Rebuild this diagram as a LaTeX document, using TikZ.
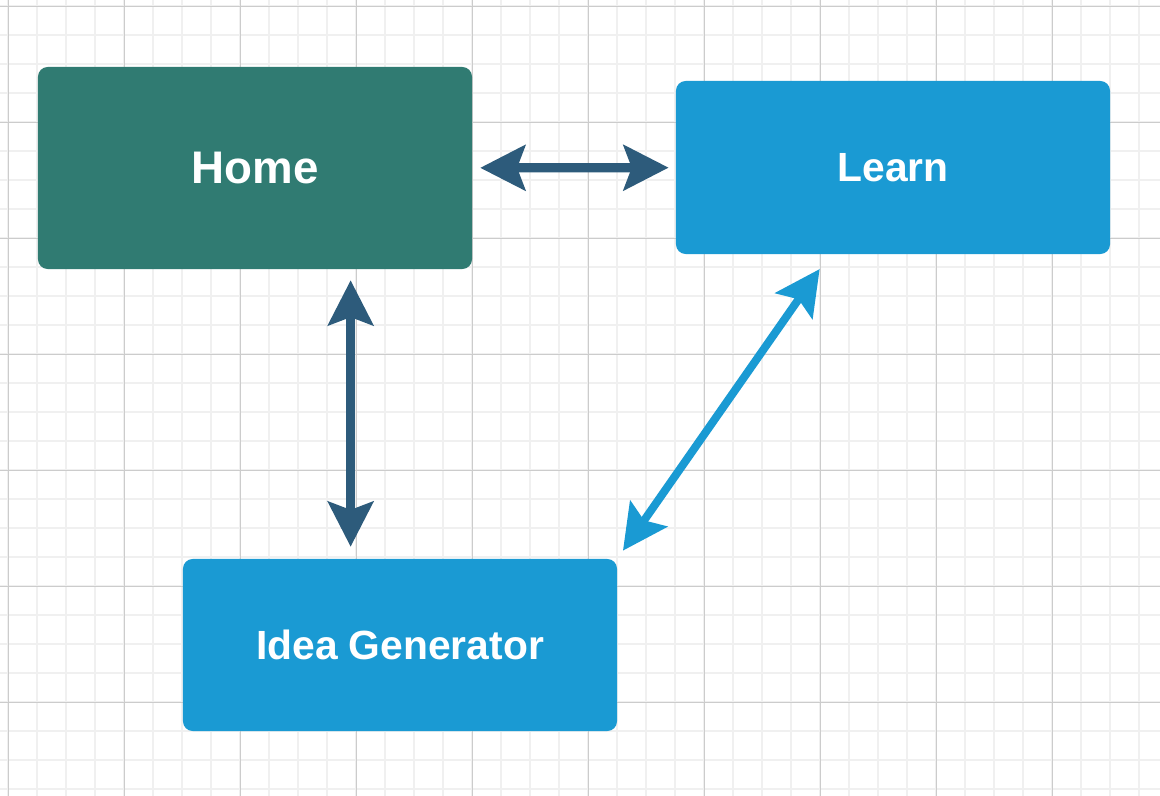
\documentclass[tikz,border=0pt]{standalone}
\usepackage{fontspec}
\setmainfont{Liberation Sans}
\usetikzlibrary{arrows.meta, calc}
\definecolor{hometeal}{HTML}{307B72}
\definecolor{pageblue}{HTML}{1A9AD3}
\definecolor{linkdark}{HTML}{2D5B7B}
\definecolor{minorgray}{HTML}{F0F0F0}
\definecolor{majorgray}{HTML}{CCCCCC}

\tikzset{
  page/.style={rounded corners=7pt, inner sep=0pt, text=white,
    font=\fontsize{29}{34}\selectfont\bfseries},
  link/.style={line width=6.6pt,
    {Stealth[length=31.9pt, width=31.9pt, inset=5.7pt]}-{Stealth[length=31.9pt, width=31.9pt, inset=5.7pt]}}
}

\begin{document}
\begin{tikzpicture}[x=0.025cm, y=-0.025cm]
      \useasboundingbox (0,0) rectangle (1160,796);
      \fill[white] (0,0) rectangle (1160,796);

      % Rejilla de fondo
      \foreach \gx in {8,37,...,1160} \draw[minorgray, line width=1.3pt] (\gx,0) -- (\gx,796);
      \foreach \gy in {6,35,...,796} \draw[minorgray, line width=1.3pt] (0,\gy) -- (1160,\gy);
      \foreach \gx in {8,124,...,1160} \draw[majorgray, line width=0.7pt] (\gx,0) -- (\gx,796);
      \foreach \gy in {6,122,...,796} \draw[majorgray, line width=0.7pt] (0,\gy) -- (1160,\gy);

      % Páginas
      \node[page, fill=hometeal, minimum width=10.85cm, minimum height=5.05cm,
        font=\fontsize{32.5}{38}\selectfont\bfseries] (home) at (255,168) {Home};
      \node[page, fill=pageblue, minimum width=10.85cm, minimum height=4.325cm] (learn) at (893,167.5) {Learn};
      \node[page, fill=pageblue, minimum width=10.85cm, minimum height=4.3cm] (idea) at (400,645) {Idea Generator};

      % Enlaces
      \draw[link, linkdark, shorten <=5.6pt, shorten >=5pt] (home) -- (learn);
      \draw[link, linkdark, shorten <=7.8pt, shorten >=8.5pt]
        ($(home.south west)!0.72!(home.south east)$) coordinate (hs) -- (hs |- idea.north);
      \draw[link, pageblue, line width=5.7pt, shorten <=12.8pt, shorten >=7pt]
        ($(learn.south west)!0.355!(learn.south east)$) coordinate (ls) -- (idea.north east);
    \end{tikzpicture}
\end{document}
